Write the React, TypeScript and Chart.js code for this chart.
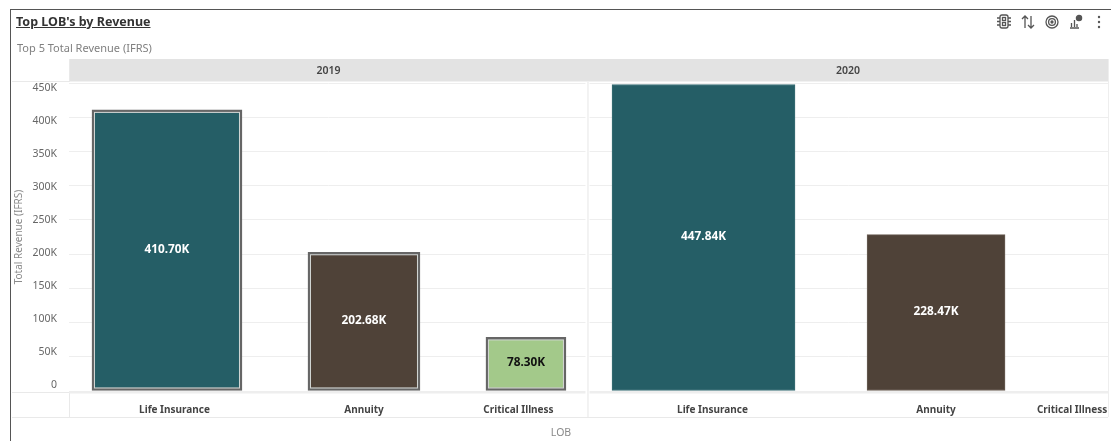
import React, { useEffect, useRef } from "react";
import { Chart, registerables, CategoryScale } from "chart.js";

const years = ["2019", "2020"];
const categories = ["Life Insurance", "Annuity", "Critical Illness", "Life Insurance", "Annuity", "Critical Illness"];
const revenue2019 = [410700, 202680, 78300];
const revenue2020 = [447840, 228470, null];
const lobColors = ["#255e66", "#4f4238", "#a3c98a"];
const edgeColors2020 = ["#3a6e75", "#6a5e54", "#a3c98a"];
const labelColors = ["#ffffff", "#ffffff", "#111111"];
const yTickValues = [0, 50000, 100000, 150000, 200000, 250000, 300000, 350000, 400000, 450000];

// Layout of the trellis: slot centres and label centres as a share of the axis, and the width of each bar.
const slotCentres = [0.0943, 0.2839, 0.4398, 0.6107, 0.8345, 0.9654];
const slotLabelCentres = [0.1015, 0.2839, 0.4326, 0.6193, 0.8345, 0.9654];
const slotBarWidths = [150, 112, 80, 183, 138, 0];
const PANEL_SPLIT = 0.4995;

const FONT = "'Noto Sans', sans-serif";

// Category axis whose slots sit at uneven positions, with captions placed independently of the bars.
class SlotCategoryScale extends CategoryScale {
  static id = "slotCategory";
  static defaults = CategoryScale.defaults;
  getPixelForValue(value: any) {
    const i = typeof value === "number" ? value : (this as any).parse(value);
    return (this as any).getPixelForDecimal(slotCentres[i]);
  }
  getPixelForTick(index: number) {
    return (this as any).getPixelForDecimal(slotLabelCentres[index]);
  }
}

Chart.register(...registerables, SlotCategoryScale as any);

const formatK = (v: number) => (v === 0 ? "0" : `${v / 1000}K`);
const formatValue = (v: number) => `${(v / 1000).toFixed(2)}K`;

const trellisFrame = {
  id: "trellisFrame",
  beforeDatasetsDraw(chart: any) {
    const { ctx, chartArea: a, scales } = chart;
    const split = scales.x.getPixelForDecimal(PANEL_SPLIT);
    ctx.save();
    // Year header band
    ctx.fillStyle = "#e3e3e3";
    ctx.fillRect(a.left, 59, a.right - a.left, 22.5);
    // Rules around the plot
    ctx.fillStyle = "#e9e9e9";
    ctx.fillRect(12, 81, a.left - 12, 1);
    ctx.fillRect(12, 392, a.left - 12, 1);
    ctx.fillRect(12, 417, 1096, 1);
    ctx.fillRect(a.left, 59, 1, 23);
    ctx.fillRect(a.left, 392, 1, 25);
    ctx.fillStyle = "#eeeeee";
    ctx.fillRect(a.left, 391, a.right - a.left, 2.5);
    ctx.fillRect(a.right, 59, 1, 358);
    // Gap between the two year panels
    ctx.fillStyle = "#ffffff";
    ctx.fillRect(split - 2.5, 82, 4, 312);
    ctx.fillStyle = "#e6e6e6";
    ctx.fillRect(split - 0.5, 82, 1, 335);
    // Year captions
    ctx.fillStyle = "#444444";
    ctx.font = `600 10.5px ${FONT}`;
    ctx.textAlign = "center";
    ctx.textBaseline = "middle";
    const bounds = [a.left, split, a.right];
    years.forEach((year, i) => ctx.fillText(year, (bounds[i] + bounds[i + 1]) / 2, 71));
    // Caption of the category axis
    ctx.fillStyle = "#8a8a8a";
    ctx.font = `10.5px ${FONT}`;
    ctx.fillText("LOB", 561, 433);
    ctx.restore();
  },
};

const barDecorations = {
  id: "barDecorations",
  afterDatasetsDraw(chart: any) {
    const { ctx } = chart;
    ctx.save();
    chart.data.datasets.forEach((ds: any, di: number) => {
      const el = chart.getDatasetMeta(di).data[ds.slot];
      const { x, y, base, width } = el.getProps(["x", "y", "base", "width"], true);
      // Selected bars carry a pale inner line inside the dark outline
      if (ds.selected) {
        ctx.strokeStyle = "#d4d8d6";
        ctx.lineWidth = 1;
        ctx.strokeRect(x - width / 2 + 2.5, y + 2.5, width - 5, base - y - 5);
      }
      ctx.fillStyle = ds.labelColor;
      ctx.font = `700 11.8px ${FONT}`;
      ctx.textAlign = "center";
      ctx.textBaseline = "middle";
      ctx.fillText(formatValue(ds.data[ds.slot]), x, (y + base) / 2 - 1);
    });
    ctx.restore();
  },
};

function buildDatasets() {
  const values = [...revenue2019, ...revenue2020];
  const datasets: any[] = [];
  values.forEach((v, slot) => {
    if (v === null) return;
    const lob = slot % 3;
    const selected = slot < 3;
    datasets.push({
      label: `${categories[slot]} ${selected ? years[0] : years[1]}`,
      data: values.map((_, i) => (i === slot ? v : null)),
      slot,
      selected,
      labelColor: labelColors[lob],
      backgroundColor: lobColors[lob],
      borderColor: selected ? "#666666" : edgeColors2020[lob],
      borderWidth: selected ? 3 : 1,
      borderSkipped: false,
      barThickness: slotBarWidths[slot],
    });
  });
  return datasets;
}

function ToolbarIcons() {
  const stroke = "#555555";
  return (
    <svg width="110" height="20" style={{ position: "absolute", left: 995, top: 12 }} fill="none" stroke={stroke} strokeWidth="1.3">
      {/* filter chip */}
      <rect x="5" y="3" width="8" height="13" rx="2" />
      <rect x="7.5" y="5.5" width="3" height="3" />
      <rect x="7.5" y="10.5" width="3" height="3" />
      <path d="M2 6h3M2 9.5h3M2 13h3M13 6h3M13 9.5h3M13 13h3" />
      {/* sort arrows */}
      <path d="M30 16V4M27 7l3-3 3 3M36 4v12M33 13l3 3 3-3" />
      {/* target */}
      <circle cx="57" cy="10" r="6" />
      <circle cx="57" cy="10" r="3.4" />
      <circle cx="57" cy="10" r="1" fill={stroke} />
      {/* chart with a badge */}
      <path d="M75 16h9M76.5 15v-4M79.5 15V8M82 15v-3" />
      <circle cx="84" cy="6" r="2.6" fill={stroke} />
      {/* overflow menu */}
      <circle cx="104" cy="5" r="1.2" fill={stroke} stroke="none" />
      <circle cx="104" cy="10" r="1.2" fill={stroke} stroke="none" />
      <circle cx="104" cy="15" r="1.2" fill={stroke} stroke="none" />
    </svg>
  );
}

export default function App() {
  const canvasRef = useRef<HTMLCanvasElement | null>(null);

  useEffect(() => {
    const chart = new Chart(canvasRef.current as HTMLCanvasElement, {
      type: "bar",
      data: { labels: categories, datasets: buildDatasets() },
      plugins: [trellisFrame, barDecorations],
      options: {
        animation: false,
        responsive: false,
        layout: { padding: { top: 83, right: 3, left: 0, bottom: 0 } },
        plugins: { legend: { display: false }, tooltip: { enabled: false }, title: { display: false } },
        scales: {
          x: {
            type: "slotCategory",
            stacked: true,
            grid: { display: false },
            border: { display: false },
            ticks: {
              autoSkip: false,
              maxRotation: 0,
              padding: 5,
              color: "#444444",
              font: { family: FONT, size: 10, weight: 700 },
            },
            afterFit(scale: any) {
              scale.height = 50;
              scale.paddingLeft = 0;
              scale.paddingRight = 0;
            },
          },
          y: {
            stacked: true,
            min: 0,
            max: 450000,
            position: "left",
            border: { display: false },
            grid: { color: "#eeeeee", drawTicks: false },
            ticks: { display: false, stepSize: 50000 },
            afterFit(scale: any) {
              scale.width = 0;
            },
          },
          // Label-only axis: the captions run on a slightly tighter pitch than the gridlines
          yCaptions: {
            type: "linear",
            position: "left",
            min: -9200,
            max: 457500,
            border: { display: false },
            grid: { display: false, drawTicks: false },
            afterBuildTicks(scale: any) {
              scale.ticks = yTickValues.map((value) => ({ value }));
            },
            ticks: {
              callback: (v: any) => formatK(Number(v)),
              color: "#666666",
              padding: 12,
              font: { family: FONT, size: 10.5 },
            },
            title: {
              display: true,
              text: "Total Revenue (IFRS)",
              color: "#8a8a8a",
              font: { family: FONT, size: 10 },
              padding: { top: 13, bottom: 0 },
            },
            afterFit(scale: any) {
              scale.width = 69;
            },
          },
        },
      } as any,
    });
    return () => chart.destroy();
  }, []);

  return (
    <div style={{ position: "fixed", left: 0, top: 0, width: 1111, height: 441, background: "#ffffff", overflow: "hidden", fontFamily: FONT }}>
      <canvas ref={canvasRef} width={1111} height={441} style={{ position: "absolute", left: 0, top: 0, display: "block" }} />
      <div style={{ position: "absolute", left: 10, top: 9, right: 0, height: 1, background: "#555555" }} />
      <div style={{ position: "absolute", left: 10, top: 9, bottom: 0, width: 1, background: "#555555" }} />
      <div style={{ position: "absolute", left: 16, top: 13, fontSize: 12.5, lineHeight: "17px", fontWeight: 700, color: "#333333", textDecoration: "underline", whiteSpace: "nowrap" }}>
        Top LOB's by Revenue
      </div>
      <div style={{ position: "absolute", left: 17, top: 40, fontSize: 11, lineHeight: "15px", color: "#808080", whiteSpace: "nowrap" }}>
        Top 5 Total Revenue (IFRS)
      </div>
      <ToolbarIcons />
    </div>
  );
}
